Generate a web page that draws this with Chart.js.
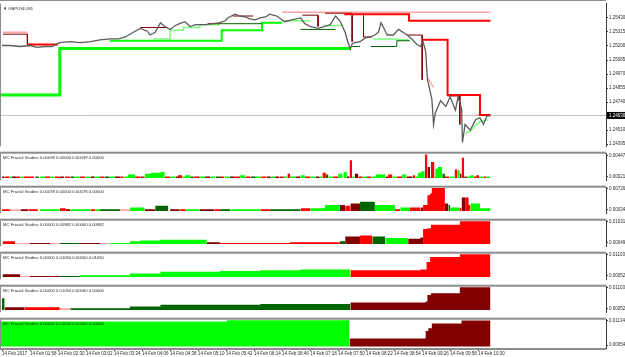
<!DOCTYPE html>
<html>
<head>
<meta charset="utf-8">
<title>GBPUSD,M1 – MC Fractal Studies</title>
<script src="https://cdn.jsdelivr.net/npm/chart.js@4.4.1/dist/chart.umd.min.js"></script>
<style>
  html, body { margin: 0; padding: 0; background: #fff; }
  #wrap { position: relative; width: 625px; height: 357px; overflow: hidden; background: #fff; }
  #wrap canvas { position: absolute; left: 0; }
</style>
</head>
<body>
<div id="wrap"></div>
<script>
'use strict';

// ─── time axis (minutes since 01:26, M1 bars) ───
const timeTicks = [0, 32, 64, 96, 128, 160, 192, 224, 256, 288, 320, 352, 384, 416, 448, 480, 512, 544];
const timeLabels = ['14 Feb 2017', '14 Feb 01:58', '14 Feb 02:30', '14 Feb 03:02', '14 Feb 03:34', '14 Feb 04:06',
  '14 Feb 04:38', '14 Feb 05:10', '14 Feb 05:42', '14 Feb 06:14', '14 Feb 06:46', '14 Feb 07:18',
  '14 Feb 07:50', '14 Feb 08:22', '14 Feb 08:54', '14 Feb 09:26', '14 Feb 09:58', '14 Feb 10:30'];

// ─── price pane ───
const priceTicks = [1.25430, 1.25315, 1.25200, 1.25085, 1.24970, 1.24855, 1.24740, 1.24510, 1.24395];
const bidPrice = 1.24630;

const priceTime = [
  0, 9, 21, 32, 40, 49, 57, 66, 78, 89,
  101, 112, 123, 133, 141, 150, 158, 166, 169, 175,
  181, 186, 192, 198, 203, 209, 215, 221, 226, 232,
  241, 249, 255, 258, 266, 272, 278, 283, 289, 295,
  301, 306, 314, 323, 331, 341, 346, 352, 361, 369,
  375, 381, 386, 392, 395, 398, 400, 403, 409, 415,
  421, 426, 430, 433, 437, 440, 447, 453, 458, 463,
  469, 474, 478, 481, 484, 486, 489, 491, 493, 495,
  501, 507, 512, 518, 521, 525, 526, 529, 535, 541,
  546, 550, 554, 558];
const priceClose = [
  1.25204, 1.25204, 1.25196, 1.25204, 1.25188, 1.25196, 1.25196, 1.25227, 1.25235, 1.25227,
  1.25235, 1.25251, 1.25258, 1.25258, 1.25274, 1.25313, 1.25344, 1.25321, 1.25290, 1.25313,
  1.25391, 1.25360, 1.25336, 1.25368, 1.25383, 1.25399, 1.25360, 1.25375, 1.25375, 1.25375,
  1.25383, 1.25391, 1.25407, 1.25430, 1.25461, 1.25446, 1.25438, 1.25422, 1.25414, 1.25430,
  1.25438, 1.25461, 1.25446, 1.25399, 1.25414, 1.25430, 1.25383, 1.25360, 1.25344, 1.25360,
  1.25375, 1.25446, 1.25407, 1.25313, 1.25235, 1.25173, 1.25219, 1.25227, 1.25235, 1.25266,
  1.25274, 1.25290, 1.25313, 1.25391, 1.25336, 1.25290, 1.25290, 1.25336, 1.25313, 1.25290,
  1.25251, 1.25212, 1.25196, 1.25235, 1.25157, 1.24923, 1.24829, 1.24767, 1.24556, 1.24650,
  1.24751, 1.24705, 1.24783, 1.24673, 1.24783, 1.24689, 1.24408, 1.24556, 1.24510, 1.24595,
  1.24611, 1.24556, 1.24627, 1.24627];

// fractal levels: [minute, price], null = break
const supThick = [[-3, 1.24798], [66, 1.24798], [66, 1.25180], [398, 1.25180]];
const supMedium = [[123, 1.25243], [251, 1.25243], [251, 1.25329], [297, 1.25329], [297, 1.25391], [320, 1.25391]];
const supLight = [
  [173, 1.25258], [192, 1.25258], [192, 1.25329], [207, 1.25329], [207, 1.25352], [226, 1.25352], [226, 1.25375], [249, 1.25375], null,
  [320, 1.25407], [352, 1.25407], null,
  [367, 1.25368], [390, 1.25368], null,
  [424, 1.25258], [451, 1.25258], [451, 1.25251], [464, 1.25251], null,
  [529, 1.24486], [535, 1.24502], [541, 1.24549], [546, 1.24580], [555, 1.24595]];
const supDark = [
  [249, 1.25383], [297, 1.25383], null,
  [341, 1.25336], [381, 1.25336], null,
  [400, 1.25196], [409, 1.25196], null,
  [421, 1.25196], [451, 1.25196], [451, 1.25243], [466, 1.25243]];
const resThick = [
  [29, 1.25212], [64, 1.25212], null,
  [391, 1.25461], [465, 1.25461], [465, 1.25407], [558, 1.25407], null,
  [481, 1.25251], [509, 1.25251], [509, 1.24798], [546, 1.24798], [546, 1.24634], [558, 1.24634]];
const resPink = [
  [1, 1.25313], [29, 1.25313], null,
  [320, 1.25477], [558, 1.25477], null,
  [486, 1.24939], [493, 1.24861], null,
  [541, 1.24634], [558, 1.24634]];
const resMaroon = [
  [1, 1.25297], [29, 1.25297], [29, 1.25212], null,
  [158, 1.25352], [189, 1.25352], null,
  [235, 1.25383], [249, 1.25383], null,
  [264, 1.25446], [287, 1.25446], null,
  [343, 1.25453], [361, 1.25453], [361, 1.25360], null,
  [369, 1.25469], [400, 1.25469], [400, 1.25235], null,
  [413, 1.25469], [413, 1.25274], [423, 1.25274], null,
  [462, 1.25290], [480, 1.25290], [480, 1.24923], null,
  [509, 1.24790], [523, 1.24790], [523, 1.24556]];

// ─── MC Fractal Studies panes: [fromMinute, toMinute, value] ───
const s1Green = [[8, 11, 0.0003], [21, 25, 0.0003], [43, 49, 0.0003], [55, 60, 0.0003], [83, 89, 0.0003], [95, 101, 0.0003],
  [106, 112, 0.0003], [123, 129, 0.0003], [139, 144, 0.0003], [144, 152, 0.0007], [163, 170, 0.00087], [170, 181, 0.00103],
  [181, 186, 0.0012], [192, 198, 0.0003], [206, 209, 0.0003], [209, 215, 0.00054], [226, 232, 0.0003], [238, 244, 0.0003],
  [254, 260, 0.0003], [272, 278, 0.00054], [290, 296, 0.0003], [307, 312, 0.0003], [322, 326, 0.0003], [329, 335, 0.0003],
  [341, 346, 0.00054], [352, 358, 0.0003], [363, 366, 0.0003], [373, 378, 0.0003], [384, 389, 0.00087], [390, 394, 0.0012],
  [400, 403, 0.0003], [412, 417, 0.0003], [422, 427, 0.0003], [427, 438, 0.0007], [446, 451, 0.0003], [457, 462, 0.0007],
  [472, 475, 0.0003], [475, 479, 0.00103], [479, 483, 0.00136], [489, 490, 0.0003], [494, 495, 0.0003], [495, 498, 0.00185],
  [498, 503, 0.00218], [511, 517, 0.0003], [520, 523, 0.00152], [531, 535, 0.0003], [535, 539, 0.00054], [545, 550, 0.0003],
  [553, 558, 0.0003]];
const s1Red = [[3, 8, 0.0003], [16, 21, 0.0003], [25, 37, 0.0003], [49, 55, 0.0003], [60, 66, 0.0003], [72, 78, 0.0003],
  [89, 95, 0.0003], [112, 117, 0.0003], [135, 139, 0.0003], [152, 158, 0.0003], [161, 163, 0.0003], [186, 192, 0.0003],
  [201, 206, 0.00054], [219, 226, 0.0003], [249, 254, 0.0003], [266, 272, 0.0003], [278, 284, 0.0003], [296, 302, 0.0003],
  [317, 322, 0.0003], [326, 329, 0.00087], [346, 352, 0.0003], [366, 370, 0.00103], [378, 384, 0.0003], [397, 400, 0.00349],
  [407, 412, 0.0003], [417, 422, 0.0003], [441, 446, 0.0007], [451, 457, 0.0003], [469, 472, 0.00054], [483, 486, 0.00464],
  [490, 494, 0.00316], [506, 511, 0.0003], [517, 520, 0.00168], [525, 528, 0.00398], [539, 542, 0.0003], [542, 545, 0.00054],
  [550, 553, 0.0003]];
const s1Maroon = [[0, 3, 0.0003], [11, 16, 0.0003], [66, 71, 0.0003], [101, 106, 0.0003], [129, 135, 0.0003], [158, 161, 0.0003],
  [198, 201, 0.0003], [232, 238, 0.0003], [260, 266, 0.0003], [302, 307, 0.0003], [312, 317, 0.0003], [335, 341, 0.0003],
  [358, 363, 0.0003], [394, 397, 0.0003], [403, 407, 0.00087], [438, 441, 0.0003], [462, 469, 0.0003], [486, 489, 0.00218],
  [523, 525, 0.00087], [528, 531, 0.0003]];
const s1DarkGreen = [[38, 42, 0.0003], [78, 83, 0.0003], [117, 123, 0.0003], [215, 219, 0.0003], [244, 249, 0.0003],
  [284, 290, 0.0003], [370, 373, 0.0007], [503, 506, 0.00087]];

const s2Red = [[0, 9, 0.0006], [30, 41, 0.0006], [66, 73, 0.00087], [101, 107, 0.0006], [203, 210, 0.0006], [243, 249, 0.0006],
  [295, 306, 0.0006], [341, 352, 0.00087], [392, 398, 0.00167], [449, 455, 0.0006], [466, 478, 0.00114], [481, 486, 0.00194],
  [486, 489, 0.00513], [489, 491, 0.00566], [491, 506, 0.0074], [523, 525, 0.0011], [529, 533, 0.00433], [533, 535, 0.00194]];
const s2Pink = [[9, 21, 0.0006], [135, 146, 0.0006]];
const s2Maroon = [[21, 30, 0.0006], [73, 78, 0.0006], [163, 175, 0.0006], [192, 203, 0.0006], [226, 243, 0.0006],
  [386, 392, 0.00194], [398, 409, 0.00247], [478, 481, 0.00114], [506, 510, 0.00247], [525, 529, 0.00433]];
const s2Green = [[43, 66, 0.0006], [78, 101, 0.0006], [107, 112, 0.0006], [146, 163, 0.00114], [210, 226, 0.0006],
  [261, 295, 0.0006], [352, 369, 0.00087], [369, 386, 0.00194], [426, 449, 0.00194], [455, 466, 0.00114],
  [512, 523, 0.00114], [535, 546, 0.00247], [546, 558, 0.00087]];
const s2DarkGreen = [[112, 135, 0.0006], [175, 190, 0.00167], [249, 261, 0.0006], [306, 341, 0.0006], [409, 426, 0.003],
  [510, 512, 0.00194]];

const s3Green = [[0, 1, 0.00087], [123, 146, 0.00049], [146, 158, 0.00125], [158, 181, 0.00162], [181, 234, 0.002], [438, 464, 0.00276]];
const s3Red = [[1, 15, 0.00125], [249, 329, 0.00049], [329, 386, 0.00087], [409, 423, 0.00389], [481, 486, 0.0069],
  [486, 490, 0.00729], [490, 523, 0.00881], [523, 558, 0.0105]];
const s3Pink = [[15, 32, 0.00049], [55, 66, 0.00049], [112, 123, 0.00049]];
const s3Maroon = [[32, 55, 0.00049], [89, 112, 0.00049], [234, 249, 0.00087], [392, 409, 0.00351], [464, 478, 0.00238], [478, 481, 0.003]];
const s3DarkGreen = [[66, 89, 0.00049], [386, 392, 0.00125], [423, 438, 0.00351]];

const s4Green = [[0, 1, 0.00133], [89, 146, 0.00092], [146, 181, 0.00173], [181, 249, 0.00254], [249, 295, 0.00294],
  [295, 341, 0.00335], [341, 398, 0.00375]];
const s4Maroon = [[1, 21, 0.00133], [32, 66, 0.00052]];
const s4Pink = [[21, 32, 0.00052]];
const s4DarkGreen = [[66, 89, 0.00052]];
const s4Red = [[398, 478, 0.00335], [478, 485, 0.00375], [485, 489, 0.0074], [489, 523, 0.00981], [523, 558, 0.0112]];

const s5DarkGreen = [[0, 3, 0.00577], [78, 146, 0.00092], [146, 181, 0.00173], [181, 295, 0.00254], [295, 398, 0.00294]];
const s5Maroon = [[3, 26, 0.00133], [398, 484, 0.00375], [484, 486, 0.00416], [486, 490, 0.00739], [490, 523, 0.0082], [523, 558, 0.0112]];
const s5Red = [[26, 66, 0.00133]];
const s5Pink = [[66, 78, 0.00092]];

const s6Green = [[-3, 257, 0.01092], [257, 397, 0.0115]];
const s6Maroon = [[397, 484, 0.00345], [484, 487, 0.00677], [487, 491, 0.00801], [491, 525, 0.01009], [525, 558, 0.01134]];

const paneTitles = [
  'MC Fractal Studies 0.00039 0.00000 0.00039 0.00000',
  'MC Fractal Studies 0.00078 0.00000 0.00078 0.00000',
  'MC Fractal Studies 0.00000 0.00982 0.00000 0.00982',
  'MC Fractal Studies 0.00000 0.01050 0.00000 0.01050',
  'MC Fractal Studies 0.00000 0.01050 0.00000 0.00000',
  'MC Fractal Studies 0.00000 0.01050 0.00000 0.00000'];
const paneTopValues = [0.00447, 0.00726, 0.01031, 0.01103, 0.01103, 0.01134];
const paneBottomValues = [0.00021, 0.00034, 0.00049, 0.00052, 0.00052, 0.00054];

// ═══════════════════════════════════════════════════════
// STYLE / LAYOUT
// ═══════════════════════════════════════════════════════

const X_MIN = -2.3, X_MAX = 690;
const FONT = '"Liberation Sans", "DejaVu Sans", Arial, sans-serif';
const C = {
  green: '#00ff00', lightGreen: '#7cff7c', darkGreen: '#006400', red: '#ff0000',
  pink: '#ffa4a4', maroon: '#800000', price: '#5c5c5c', bid: '#c4c4c4',
  frame: '#8c8c8c', axis: '#3a3a3a', text: '#2a2a2a'
};

// canvas top, canvas height, y min, y max (per pane)
const paneLayout = [
  { top: 150, height: 34, min: -0.000445, max: 0.004797 },
  { top: 184, height: 33, min: -0.000724, max: 0.007522 },
  { top: 217, height: 33, min: -0.001022, max: 0.010696 },
  { top: 250, height: 33, min: -0.001096, max: 0.011428 },
  { top: 283, height: 33, min: -0.001096, max: 0.011428 },
  { top: 316, height: 41, min: -0.000705, max: 0.011745 }
];
const paneSeries = [
  [[s1Red, C.red], [s1Green, C.green], [s1Maroon, C.maroon], [s1DarkGreen, C.darkGreen]],
  [[s2Red, C.red], [s2Pink, C.pink], [s2Maroon, C.maroon], [s2Green, C.green], [s2DarkGreen, C.darkGreen]],
  [[s3Red, C.red], [s3Green, C.green], [s3Pink, C.pink], [s3Maroon, C.maroon], [s3DarkGreen, C.darkGreen]],
  [[s4Red, C.red], [s4Green, C.green], [s4Maroon, C.maroon], [s4Pink, C.pink], [s4DarkGreen, C.darkGreen]],
  [[s5Maroon, C.maroon], [s5DarkGreen, C.darkGreen], [s5Red, C.red], [s5Pink, C.pink]],
  [[s6Maroon, C.maroon], [s6Green, C.green]]
];

const wrap = document.getElementById('wrap');

function makeCanvas(top, height) {
  const c = document.createElement('canvas');
  c.width = 625;
  c.height = height;
  c.style.top = top + 'px';
  c.style.width = '625px';
  c.style.height = height + 'px';
  wrap.appendChild(c);
  return c;
}

function toXY(pairs) {
  const out = [];
  let lastX = 0;
  for (const p of pairs) {
    if (p) { out.push({ x: p[0], y: p[1] }); lastX = p[0]; }
    else out.push({ x: lastX, y: null });
  }
  return out;
}

// histogram runs -> one stepped outline per contiguous block (no seams)
function segPoints(segs) {
  const pts = [];
  let prevEnd = null;
  for (const [a, b, v] of segs) {
    if (prevEnd !== null && a !== prevEnd) pts.push({ x: prevEnd, y: null });
    pts.push({ x: a, y: v }, { x: b, y: v });
    prevEnd = b;
  }
  return pts;
}

function lineSet(pairs, color, width) {
  return {
    data: toXY(pairs), borderColor: color, borderWidth: width, pointRadius: 0,
    spanGaps: false, fill: false, tension: 0, borderCapStyle: 'butt'
  };
}

// frame, separators, pane title, bid label
const framePlugin = {
  id: 'frame',
  afterDraw(chart, args, o) {
    const { ctx, chartArea: a } = chart;
    ctx.save();
    ctx.fillStyle = C.frame;
    ctx.fillRect(0, a.top, 1, a.bottom - a.top);
    if (o.sepTop) ctx.fillRect(0, a.top - 2, a.right, 2);
    else ctx.fillRect(0, 0, a.right, 1);
    if (o.sepBottom) ctx.fillRect(0, a.bottom, a.right, 2);

    ctx.fillStyle = C.text;
    ctx.font = '4.2px ' + FONT;
    ctx.textBaseline = 'top';
    ctx.fillText(o.title, o.titleX, a.top + o.titleY);

    if (o.bid != null) {
      const y = chart.scales.y.getPixelForValue(o.bid);
      ctx.fillStyle = '#000';
      ctx.fillRect(a.right + 1, y - 3.5, chart.width - a.right - 1, 7);
      ctx.fillStyle = '#fff';
      ctx.font = '4.5px ' + FONT;
      ctx.textBaseline = 'middle';
      ctx.fillText(o.bid.toFixed(5), a.right + 3, y + 0.5);
    }
    ctx.restore();
  }
};

function yAxis(min, max, tickValues) {
  return {
    type: 'linear', position: 'right', min, max,
    afterFit: s => { s.width = 19; },
    afterBuildTicks: s => { s.ticks = tickValues.map(v => ({ value: v })); },
    ticks: {
      autoSkip: false, padding: 1, color: C.text,
      font: { family: FONT, size: 4.5 },
      callback: v => Number(v).toFixed(5)
    },
    grid: { drawOnChartArea: false, tickLength: 2, color: C.axis },
    border: { color: C.axis, width: 1 }
  };
}

function xAxis(show) {
  const ax = { type: 'linear', min: X_MIN, max: X_MAX, display: show };
  if (!show) return ax;
  return {
    ...ax,
    afterFit: s => { s.height = 9; },
    afterBuildTicks: s => { s.ticks = timeTicks.map(v => ({ value: v })); },
    ticks: {
      autoSkip: false, maxRotation: 0, minRotation: 0, align: 'start', padding: 0,
      color: C.text, font: { family: FONT, size: 4.5 },
      callback: (v, i) => timeLabels[i]
    },
    grid: { drawOnChartArea: false, tickLength: 3, color: C.axis },
    border: { display: false }
  };
}

const baseOptions = {
  responsive: false,
  animation: false,
  devicePixelRatio: 1,
  events: [],
  plugins: { legend: { display: false }, tooltip: { enabled: false } }
};

// ═══════════════════════════════════════════════════════
// PRICE PANE
// ═══════════════════════════════════════════════════════

new Chart(makeCanvas(0, 150), {
  type: 'line',
  data: {
    datasets: [
      {
        data: priceTime.map((t, i) => ({ x: t, y: priceClose[i] })),
        borderColor: C.price, borderWidth: 1.3, pointRadius: 0, tension: 0, fill: false
      },
      lineSet(resThick, C.red, 2),
      lineSet(resMaroon, C.maroon, 1),
      lineSet(resPink, C.pink, 1.5),
      lineSet(supDark, C.darkGreen, 1),
      lineSet(supLight, C.lightGreen, 1.5),
      lineSet(supMedium, C.green, 2),
      lineSet(supThick, C.green, 3),
      lineSet([[X_MIN, bidPrice], [X_MAX, bidPrice]], C.bid, 1)
    ]
  },
  options: {
    ...baseOptions,
    layout: { padding: 0 },
    plugins: {
      ...baseOptions.plugins,
      frame: { sepTop: false, title: '\u25BC GBPUSD,M1', titleX: 3, titleY: 3, bid: bidPrice }
    },
    scales: { x: xAxis(false), y: yAxis(1.24377, 1.25547, priceTicks) }
  },
  plugins: [framePlugin]
});

// ═══════════════════════════════════════════════════════
// INDICATOR PANES
// ═══════════════════════════════════════════════════════

paneLayout.forEach((p, i) => {
  const last = i === paneLayout.length - 1;
  new Chart(makeCanvas(p.top, p.height), {
    type: 'line',
    data: {
      datasets: paneSeries[i].map(([segs, color]) => ({
        data: segPoints(segs),
        backgroundColor: color, borderColor: 'transparent', borderWidth: 0,
        pointRadius: 0, spanGaps: false, tension: 0, fill: 'origin'
      }))
    },
    options: {
      ...baseOptions,
      layout: { padding: { top: 2, left: 0, right: 0, bottom: 0 } },
      plugins: {
        ...baseOptions.plugins,
        frame: { sepTop: true, sepBottom: last, title: paneTitles[i], titleX: 3, titleY: 2 }
      },
      scales: {
        x: xAxis(last),
        y: yAxis(p.min, p.max, [paneBottomValues[i], paneTopValues[i]])
      }
    },
    plugins: [framePlugin]
  });
});
</script>
</body>
</html>
